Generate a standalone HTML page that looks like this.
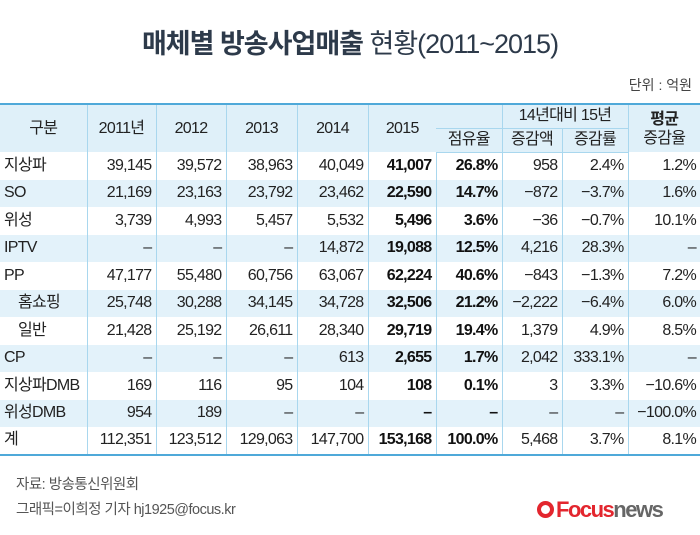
<!DOCTYPE html>
<html><head><meta charset="utf-8"><style>
body{margin:0;width:700px;height:535px;background:#fff;position:relative;overflow:hidden;font-family:"Liberation Sans","Noto Sans CJK KR",sans-serif;color:#222}
.title{position:absolute;left:0;width:700px;top:22px;text-align:center;font-size:27px;color:#2d3a4a;letter-spacing:-1px}
.unit{position:absolute;right:8px;top:75px;font-size:14px;color:#444}
table{position:absolute;left:0;top:103px;width:700px;border-collapse:collapse;table-layout:fixed;font-size:16px;letter-spacing:-0.7px;line-height:18px}
td{height:27.5px;padding:0 4px 0 0;text-align:right;border-left:1px solid #a9d7ee;white-space:nowrap;overflow:hidden;box-sizing:border-box}
td:first-child{border-left:none;text-align:left;padding-left:4px}
tr.s td{background:#e3f2fa}
tr.h td{background:#dff0f9;text-align:center;padding:0;height:24px}
table{border-top:2px solid #4fa9d9;border-bottom:2px solid #4fa9d9}
tr.h2 td{border-bottom:1px solid #a9d7ee}
.b{font-weight:bold;color:#111}
.in{padding-left:18px!important}
.foot{position:absolute;left:16px;font-size:14.5px;color:#555;letter-spacing:-0.5px}
.logo{position:absolute;left:537px;top:497px;font-size:22px;font-weight:bold;letter-spacing:-1.5px}
</style></head><body>
<div class="title"><b>매체별 방송사업매출</b> 현황(2011~2015)</div>
<div class="unit">단위 : 억원</div>
<table>
<colgroup><col style="width:87px"><col style="width:69px"><col style="width:70px"><col style="width:71px"><col style="width:71px"><col style="width:68px"><col style="width:66px"><col style="width:60px"><col style="width:66px"><col style="width:72px"></colgroup>
<tr class="h"><td rowspan="2" style="text-align:center">구분</td><td rowspan="2">2011년</td><td rowspan="2">2012</td><td rowspan="2">2013</td><td rowspan="2">2014</td><td rowspan="2" style="border-right:none">2015</td><td style="border-left:none"></td><td colspan="2" style="border-bottom:1px solid #a9d7ee">14년대비 15년</td><td rowspan="2" style="line-height:19px"><b>평균</b><br>증감율</td></tr>
<tr class="h h2"><td style="border-top:1px solid #a9d7ee">점유율</td><td>증감액</td><td>증감률</td></tr>
<tr><td>지상파</td><td>39,145</td><td>39,572</td><td>38,963</td><td>40,049</td><td class="b">41,007</td><td class="b">26.8%</td><td>958</td><td>2.4%</td><td>1.2%</td></tr>
<tr class="s"><td>SO</td><td>21,169</td><td>23,163</td><td>23,792</td><td>23,462</td><td class="b">22,590</td><td class="b">14.7%</td><td>−872</td><td>−3.7%</td><td>1.6%</td></tr>
<tr><td>위성</td><td>3,739</td><td>4,993</td><td>5,457</td><td>5,532</td><td class="b">5,496</td><td class="b">3.6%</td><td>−36</td><td>−0.7%</td><td>10.1%</td></tr>
<tr class="s"><td>IPTV</td><td>–</td><td>–</td><td>–</td><td>14,872</td><td class="b">19,088</td><td class="b">12.5%</td><td>4,216</td><td>28.3%</td><td>–</td></tr>
<tr><td>PP</td><td>47,177</td><td>55,480</td><td>60,756</td><td>63,067</td><td class="b">62,224</td><td class="b">40.6%</td><td>−843</td><td>−1.3%</td><td>7.2%</td></tr>
<tr class="s"><td class="in">홈쇼핑</td><td>25,748</td><td>30,288</td><td>34,145</td><td>34,728</td><td class="b">32,506</td><td class="b">21.2%</td><td>−2,222</td><td>−6.4%</td><td>6.0%</td></tr>
<tr><td class="in">일반</td><td>21,428</td><td>25,192</td><td>26,611</td><td>28,340</td><td class="b">29,719</td><td class="b">19.4%</td><td>1,379</td><td>4.9%</td><td>8.5%</td></tr>
<tr class="s"><td>CP</td><td>–</td><td>–</td><td>–</td><td>613</td><td class="b">2,655</td><td class="b">1.7%</td><td>2,042</td><td>333.1%</td><td>–</td></tr>
<tr><td>지상파DMB</td><td>169</td><td>116</td><td>95</td><td>104</td><td class="b">108</td><td class="b">0.1%</td><td>3</td><td>3.3%</td><td>−10.6%</td></tr>
<tr class="s"><td>위성DMB</td><td>954</td><td>189</td><td>–</td><td>–</td><td class="b">–</td><td class="b">–</td><td>–</td><td>–</td><td>−100.0%</td></tr>
<tr><td>계</td><td>112,351</td><td>123,512</td><td>129,063</td><td>147,700</td><td class="b">153,168</td><td class="b">100.0%</td><td>5,468</td><td>3.7%</td><td>8.1%</td></tr>
</table>
<div class="foot" style="top:473px">자료: 방송통신위원회</div>
<div class="foot" style="top:498px">그래픽=이희정 기자 hj1925@focus.kr</div>
<div class="logo"><span style="display:inline-block;width:17px;height:17px;border-radius:50%;border:4px solid #e3262e;box-sizing:border-box;vertical-align:-1px;margin-right:2px"></span><span style="color:#e3262e">Focus</span><span style="color:#666">news</span></div>
</body></html>
